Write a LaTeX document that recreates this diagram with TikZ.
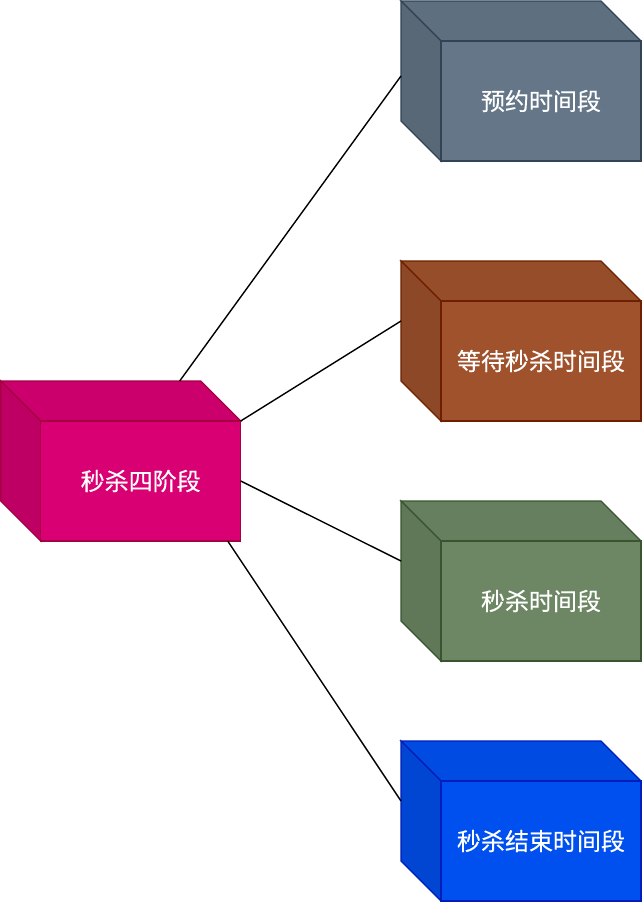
\documentclass[tikz,border=0pt]{standalone}
\usepackage{fontspec}
\setmainfont{Noto Sans CJK SC}[FakeBold=0.4]
\usetikzlibrary{calc}
\definecolor{pinkF}{HTML}{D80073}\definecolor{pinkS}{HTML}{A50040}
\definecolor{grayF}{HTML}{647687}\definecolor{grayS}{HTML}{314354}
\definecolor{orgF}{HTML}{A0522D}\definecolor{orgS}{HTML}{6D1F00}
\definecolor{grnF}{HTML}{6D8764}\definecolor{grnS}{HTML}{3A5431}
\definecolor{bluF}{HTML}{0050EF}\definecolor{bluS}{HTML}{001DBC}
\tikzset{
  front/.style={draw, line width=1.3pt, minimum width=200pt, minimum height=120pt,
    inner sep=0pt, outer sep=0pt, text=white, anchor=north west,
    font=\fontsize{24}{28}\selectfont},
  face/.style={line width=1.3pt, line join=miter},
  link/.style={draw=black, line width=1.4pt}
}
\newcommand\mycube[6]{%
  \draw[face, fill=#4!94!black, draw=#5] (#2,#3) -- (#2+200,#3) -- (#2+240,#3+40) -- (#2+40,#3+40) -- cycle;
  \draw[face, fill=#4!88!black, draw=#5] (#2,#3) -- (#2+40,#3+40) -- (#2+40,#3+160) -- (#2,#3+120) -- cycle;
  \node[front, fill=#4, draw=#5] (#1) at (#2+40,#3+40) {#6};
}
\begin{document}
\begin{tikzpicture}[x=1pt,y=-1pt]
\useasboundingbox (0,0) rectangle (642,902);
\mycube{L}{0.7}{381}{pinkF}{pinkS}{秒杀四阶段}
\mycube{A}{401}{1}{grayF}{grayS}{预约时间段}
\mycube{B}{401}{261}{orgF}{orgS}{等待秒杀时间段}
\mycube{C}{401}{501}{grnF}{grnS}{秒杀时间段}
\mycube{D}{401}{741}{bluF}{bluS}{秒杀结束时间段}
\coordinate (l1) at ($(L.north west)+(139,-40)$);
\coordinate (l4) at ($(L.south east)+(-13,0)$);
\coordinate (a1) at ($(A.west)+(-40,-25)$);
\coordinate (b1) at ($(B.west)+(-40,-40)$);
\coordinate (c1) at ($(C.west)+(-40,-40)$);
\coordinate (d1) at ($(D.west)+(-40,-40)$);
\draw[link] (l1) -- (a1);
\draw[link] (L.north east) -- (b1);
\draw[link] (L.east) -- (c1);
\draw[link] (l4) -- (d1);
\end{tikzpicture}
\end{document}
